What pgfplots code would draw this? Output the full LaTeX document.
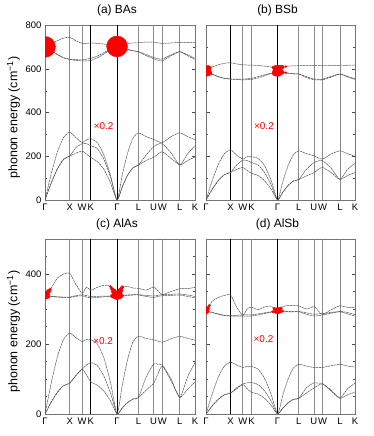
\documentclass[border=0pt]{standalone}
\usepackage{fontspec}
\setmainfont{Liberation Sans}
\usepackage{pgfplots}
\pgfplotsset{compat=1.18}
\usepackage{pgfplotstable}

\definecolor{vgray}{HTML}{8A8A8A}
\definecolor{band}{HTML}{505050}

% s  = path coordinate (Gamma-X-W-K-Gamma-L-U-W-L-K), a = acoustic, o = optical
\pgfplotstableread{
s     a1  a2  a3  o1  o2  o3
0     0   0   0   700 700 705
0.25  77  77  119 685 685 715
0.5   142 142 219 665 665 728
0.75  186 186 286 650 650 740
1.0   201 201 310 643 643 744
1.25  214 240 285 638 642 728
1.5   224 257 262 636 640 716
1.677 210 258 275 636 644 716
1.854 195 248 280 638 648 718
2.119 175 235 262 650 658 716
2.384 140 185 205 668 674 713
2.650 78  105 112 688 690 709
2.914 0   0   0   700 700 705
3.131 62  62  118 695 695 712
3.347 115 115 217 688 688 716
3.564 148 148 284 682 682 718
3.780 160 160 307 678 678 719
4.086 180 205 290 660 665 722
4.393 195 244 277 646 652 722
4.570 210 255 268 639 646 718
4.746 221 257 262 636 644 716
5.100 190 215 290 660 664 718
5.453 160 160 307 678 678 720
5.760 180 210 290 660 664 719
6.066 197 248 275 642 648 719
}\tabA
\pgfplotstableread{
s     a1  a2  a3  o1  o2  o3
0     0   0   0   587 587 598
0.25  48  48  88  575 576 608
0.5   89  89  162 563 564 618
0.75  116 116 212 556 556 625
1.0   126 126 229 553 553 628
1.25  140 160 205 551 553 622
1.5   149 182 187 549 552 618
1.677 135 180 198 550 554 617
1.854 122 171 198 551 556 617
2.119 112 160 190 558 564 615
2.384 88  125 158 568 572 612
2.650 50  70  90  578 580 608
2.914 0   0   0   587 587 598
3.131 36  36  86  583 584 608
3.347 67  67  159 580 580 612
3.564 87  87  208 577 577 613
3.780 94  94  225 576 576 614
4.086 110 140 212 560 564 615
4.393 125 171 202 550 553 615
4.570 140 178 192 549 552 615
4.746 149 180 187 549 552 614
5.100 125 145 210 562 565 615
5.453 94  94  225 576 576 616
5.760 112 140 212 562 565 616
6.066 125 168 200 551 555 617
}\tabB
\pgfplotstableread{
s     a1  a2  a3  o1  o2  o3
0     0   0   0   337 337 337
0.25  34  34  88  336 336 360
0.5   62  62  163 334 335 388
0.75  81  81  213 333 334 400
1.0   88  88  231 333 334 402
1.25  110 110 218 336 338 370
1.5   128 128 207 338 341 345
1.677 112 140 213 334 338 362
1.854 92  147 212 332 336 354
2.119 82  138 200 333 336 362
2.384 65  108 160 335 337 368
2.650 37  60  90  336 337 364
2.914 0   0   0   337 337 337
3.131 18  18  85  338 339 363
3.347 33  33  158 339 340 364
3.564 43  43  207 340 341 360
3.780 47  47  222 340 341 359
4.086 68  105 216 336 339 354
4.393 88  143 212 333 337 363
4.570 115 142 208 336 339 352
4.746 137 140 205 338 341 341
5.100 95  100 215 339 342 350
5.453 47  47  222 340 343 358
5.760 70  105 216 336 340 358
6.066 92  147 211 332 336 362
}\tabC
\pgfplotstableread{
s     a1  a2  a3  o1  o2  o3
0     0   0   0   294 294 294
0.25  23  23  57  290 290 322
0.5   42  42  105 285 286 333
0.75  55  55  137 281 282 339
1.0   60  60  148 280 281 340
1.25  72  75  140 280 282 305
1.5   84  86  133 280 283 282
1.677 72  89  136 280 283 300
1.854 62  90  136 280 283 305
2.119 57  84  128 283 286 298
2.384 45  66  102 287 289 306
2.650 25  37  57  291 292 308
2.914 0   0   0   294 294 294
3.131 17  17  55  293 294 307
3.347 32  32  101 292 293 310
3.564 42  42  132 292 293 310
3.780 45  45  142 292 293 309
4.086 60  75  137 285 289 300
4.393 74  89  133 280 285 307
4.570 82  88  133 281 286 295
4.746 86  87  133 283 287 284
5.100 68  65  138 288 290 298
5.453 45  45  142 292 293 309
5.760 55  72  137 286 290 305
6.066 62  88  134 280 284 305
}\tabD

% red weights (x0.2): s, energy, marker radius
\pgfplotstableread{
s     e   r
0     700 10.5
2.914 702 10.5
}\wA
\pgfplotstableread{
s     e   r
0     587 5
0.08  584 3.5
0.08  602 3
0.16  580 2
0.16  604 1.5
2.914 587 5
2.84  582 3.5
2.84  602 3
2.74  579 1.5
2.74  606 1.5
2.99  585 3.5
2.99  603 3
3.10  584 2
3.10  607 2
3.25  582 1
3.25  610 1
}\wB
\pgfplotstableread{
s     e   r
0     337 3.5
0.07  343 2.8
0.14  350 2.1
0.21  356 1.4
0.10  337 2.5
2.914 337 3.8
2.844 344 3.2
2.774 351 2.5
2.704 358 1.8
2.65  364 1.2
2.984 345 3.2
3.054 353 2.5
3.12  362 1.8
2.81  337 2.8
2.71  337 1.8
3.02  337 2.8
3.12  338 1.8
}\wC
\pgfplotstableread{
s     e   r
0     294 3
0.07  302 2
0.14  310 1.2
2.914 294 3
2.85  297 2.3
2.78  301 1.5
2.98  298 2.3
3.05  302 1.5
2.82  294 2
3.01  294 2
2.72  292 1.2
3.11  294 1.2
}\wD

\newcommand{\vl}[3][vgray]{\draw[#1, line width=0.8pt] (axis cs:#2,0) -- (axis cs:#2,#3);}
\newcommand{\bands}[1]{%
  \addplot[bnd] table[x=s,y=a1]{#1};
  \addplot[bnd] table[x=s,y=a2]{#1};
  \addplot[bnd] table[x=s,y=a3]{#1};
  \addplot[bnd] table[x=s,y=o1]{#1};
  \addplot[bnd] table[x=s,y=o2]{#1};
  \addplot[bnd] table[x=s,y=o3]{#1};}
\newcommand{\wts}[1]{%
  \addplot[scatter, only marks, mark=*,
    scatter/use mapped color={draw=red,fill=red},
    visualization depends on={\thisrow{r}\as\mrad},
    scatter/@pre marker code/.append style={/tikz/mark size=\mrad}]
    table[x=s,y=e]{#1};}

\pgfplotsset{
  bnd/.style={band, line width=0.5pt, smooth, tension=0.35, no markers,
    dash pattern=on 2.5pt off 0.6pt},
  phon/.style={
    scale only axis, width=150bp, height=175bp,
    xmin=0, xmax=6.066,
    xtick={0,1,1.5,1.854,2.914,3.780,4.393,4.746,5.453,6.066},
    xticklabels={Γ,X,W,K,Γ,L,U,W,L,K},
    xtick style={draw=none},
    ytick pos=both, tick align=inside,
    axis line style={black!55},
    ytick style={black!70},
    major tick length=3.5bp, minor tick length=2bp,
    tick label style={font=\fontsize{9.5}{11}\selectfont},
    /pgf/number format/assume math mode=true,
    title style={font=\fontsize{12}{14}\selectfont, at={(0.48,1)}, anchor=south, inner sep=2.5bp},
    ylabel style={font=\fontsize{12.5}{14}\selectfont, at={(axis description cs:-0.21,0.47)}, anchor=center},
    clip marker paths=true,
  },
}

\begin{document}
\begin{tikzpicture}
\useasboundingbox (0,0) rectangle (374bp,436bp);

% (a) BAs
\begin{axis}[phon, at={(45bp,236bp)}, anchor=south west,
  ymin=0, ymax=800, ytick={0,200,400,600,800}, minor y tick num=1,
  ylabel={phonon energy (cm\textsuperscript{−1})}, title={(a) BAs}]
\vl{1}{800}\vl{1.5}{800}\vl[black]{1.854}{800}\vl[black]{2.914}{800}
\vl{3.780}{800}\vl{4.393}{800}\vl{4.746}{800}\vl{5.453}{800}
\bands{\tabA}
\wts{\wA}
\node[red, font=\fontsize{10}{12}\selectfont] at (axis cs:2.37,338) {×0.2};
\end{axis}

% (b) BSb
\begin{axis}[phon, at={(206bp,236bp)}, anchor=south west, width=149bp,
  ymin=0, ymax=800, ytick={0,200,400,600,800}, minor y tick num=1,
  yticklabels={}, title={(b) BSb}]
\vl[black]{1}{800}\vl{1.5}{800}\vl{1.854}{800}\vl[black]{2.914}{800}
\vl{3.780}{800}\vl{4.393}{800}\vl{4.746}{800}\vl[vgray, line width=1.6pt]{5.453}{800}
\bands{\tabB}
\wts{\wB}
\node[red, font=\fontsize{10}{12}\selectfont] at (axis cs:2.36,338) {×0.2};
\end{axis}

% (c) AlAs
\begin{axis}[phon, at={(45bp,22bp)}, anchor=south west,
  ymin=0, ymax=500, ytick={0,200,400}, minor ytick={50,100,...,450},
  ylabel={phonon energy (cm\textsuperscript{−1})}, title={(c) AlAs}]
\vl{1}{500}\vl{1.5}{500}\vl[black]{1.854}{500}\vl[black]{2.914}{500}
\vl{3.780}{500}\vl{4.393}{500}\vl{4.746}{500}\vl{5.453}{500}
\bands{\tabC}
\wts{\wC}
\node[red, font=\fontsize{10}{12}\selectfont] at (axis cs:2.35,209) {×0.2};
\end{axis}

% (d) AlSb
\begin{axis}[phon, at={(206bp,22bp)}, anchor=south west, width=149bp,
  ymin=0, ymax=500, ytick={0,200,400}, minor ytick={50,100,...,450},
  yticklabels={}, title={(d) AlSb}]
\vl[black]{1}{500}\vl{1.5}{500}\vl{1.854}{500}\vl[black]{2.914}{500}
\vl{3.780}{500}\vl{4.393}{500}\vl{4.746}{500}\vl[vgray, line width=1.6pt]{5.453}{500}
\bands{\tabD}
\wts{\wD}
\node[red, font=\fontsize{10}{12}\selectfont] at (axis cs:2.34,214) {×0.2};
\end{axis}
\end{tikzpicture}
\end{document}
